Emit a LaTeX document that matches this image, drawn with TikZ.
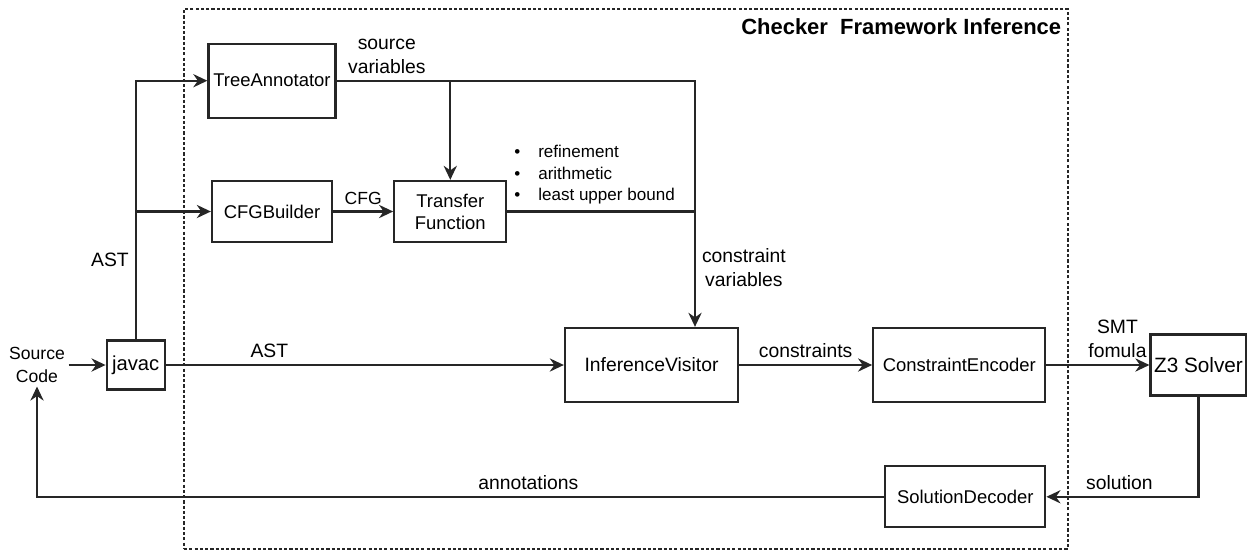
\documentclass[tikz,border=0pt]{standalone}
\usepackage{fontspec}
\setmainfont{Liberation Sans}
\usetikzlibrary{arrows.meta,positioning,fit}
\tikzstyle{block} = [rectangle, draw=black!85, line width=1.3pt, align=center,
                     inner sep=2pt, font=\fontsize{10.5}{12.5}\selectfont]
\tikzstyle{arrow} = [-{Stealth[length=8pt,width=7.5pt]}, line width=1.3pt, draw=black!85]
\tikzstyle{line} = [line width=1.3pt, draw=black!85]
\tikzstyle{lbl} = [font=\fontsize{11}{13.6}\selectfont, align=center]
\tikzstyle{frame} = [draw=black!85, line width=0.6pt, dash pattern=on 1.8pt off 1.2pt,
                     inner sep=0pt]

\begin{document}
\begin{tikzpicture}
    \useasboundingbox (0,0) rectangle (25.02,-11.02);
    \coordinate (fnw) at (3.68,-0.18);
    \coordinate (fse) at (21.36,-10.98);
    \node [frame, fit=(fnw)(fse)] (frame) {};
    \node [anchor=north east, inner sep=0pt, font=\fontsize{12.5}{14}\selectfont\bfseries]
          (title) at ([xshift=-0.14cm,yshift=-0.2cm]frame.north east) {Checker\ \ Framework Inference};

    \node [block, minimum width=3.46cm, minimum height=1.48cm, font=\fontsize{11}{13}\selectfont]
          (infer) at (13.03,-7.30) {InferenceVisitor};
    \node [block, minimum width=3.44cm, minimum height=1.48cm, right=2.66cm of infer] (encoder) {ConstraintEncoder};
    \node [block, minimum width=1.84cm, minimum height=1.22cm, right=2.06cm of encoder,
           font=\fontsize{11.8}{13}\selectfont] (z3) {Z3 Solver};
    \node [block, minimum width=3.2cm, minimum height=1.22cm, below=1.24cm of encoder.south east,
           anchor=north east] (decoder) {SolutionDecoder};
    \node [block, minimum width=1.16cm, minimum height=0.98cm, left=7.96cm of infer,
           font=\fontsize{11.5}{13}\selectfont] (javac) {javac};
    \node [lbl, inner sep=2pt, font=\fontsize{10}{13}\selectfont] (src) at (0.74,-7.30) {Source\\Code};
    \node [block, minimum width=2.4cm, minimum height=1.22cm] (cfg) at (5.44,-4.23) {CFGBuilder};
    \node [block, minimum width=2.24cm, minimum height=1.22cm, right=1.2cm of cfg] (transfer) {Transfer\\Function};
    \node [block, minimum width=2.54cm, minimum height=1.48cm, above=1.22cm of cfg] (tree) {TreeAnnotator};
    \coordinate (join) at ([xshift=0.87cm]infer.north);

    \draw [arrow] (src.east) -- (javac.west);
    \draw [arrow] (javac.north) |- node[lbl, left, pos=0.153]{AST} (tree.west);
    \draw [arrow] (javac.north |- cfg.west) -- (cfg.west);
    \draw [arrow] (javac) -- node[lbl, above, pos=0.26]{AST} (infer);
    \draw [arrow] (tree.east) -| node[lbl, above, pos=0.07]{source\\variables}
                                 node[lbl, right, pos=0.88]{constraint\\variables} (join);
    \draw [arrow] (tree.east -| transfer.north) -- (transfer.north);
    \draw [arrow] (cfg) -- node[above, font=\fontsize{10}{12}\selectfont]{CFG} (transfer);
    \draw [line] (transfer.east) -- node[pos=0, above right, align=left, font=\fontsize{9.7}{12.5}\selectfont]
          {\makebox[1.4em][l]{\textbullet}refinement\\\makebox[1.4em][l]{\textbullet}arithmetic\\
           \makebox[1.4em][l]{\textbullet}least upper bound} (transfer.east -| join);
    \draw [arrow] (infer) -- node[lbl, above]{constraints} (encoder);
    \draw [arrow] (encoder) -- node[lbl, above, pos=0.69]{SMT\\fomula} (z3);
    \draw [arrow] (z3.south) |- node[lbl, above, pos=0.76]{solution} (decoder.east);
    \draw [arrow] (decoder.west) -| node[lbl, above, pos=0.21]{annotations} (src.south);
  \end{tikzpicture}
\end{document}
